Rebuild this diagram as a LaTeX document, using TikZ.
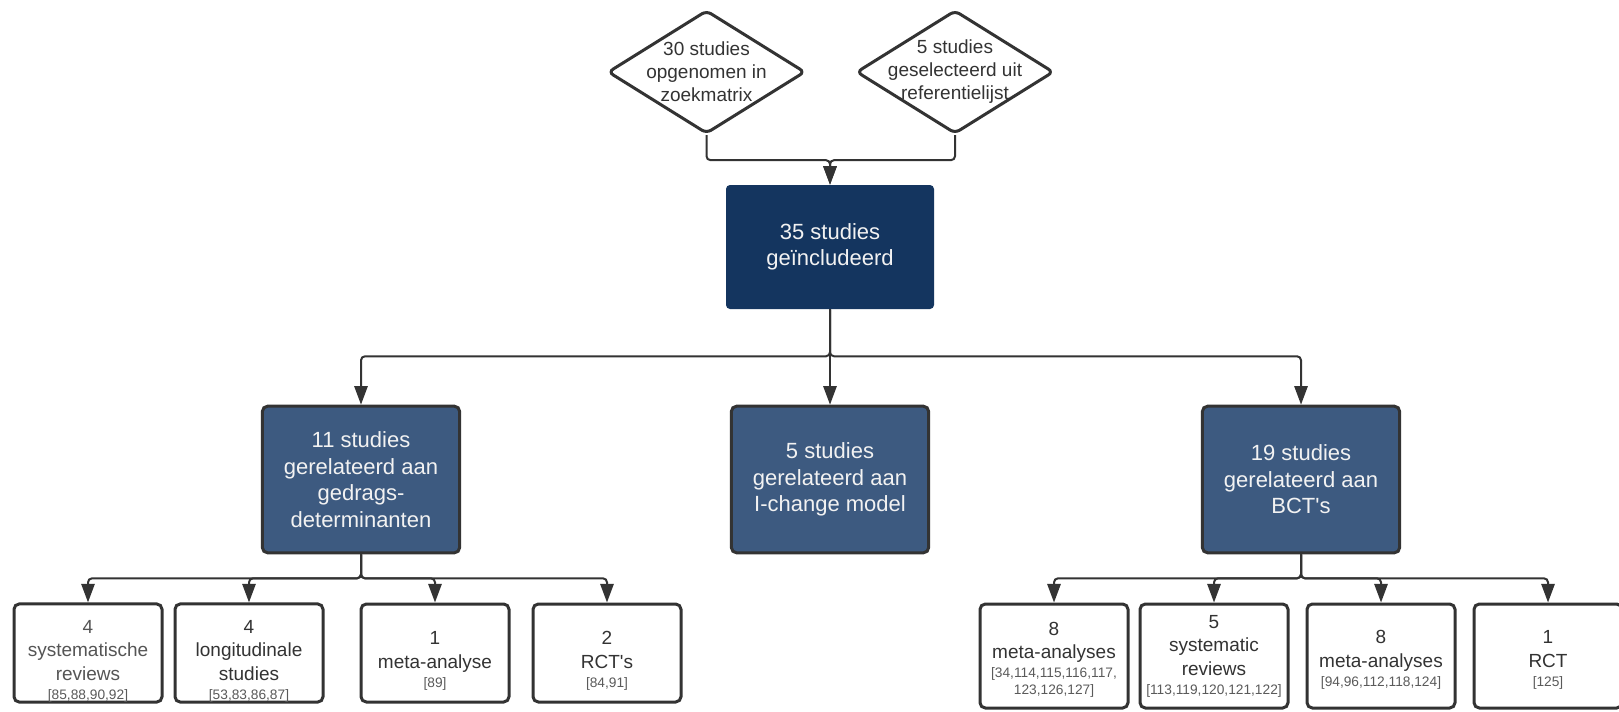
\documentclass[tikz,border=0pt]{standalone}
\usepackage{fontspec}
\setmainfont{Liberation Sans}[Ligatures=TeXOff]
\usetikzlibrary{arrows.meta,shapes.geometric}
\definecolor{navy}{HTML}{14355F}
\definecolor{slate}{HTML}{3D5A80}
\definecolor{edge}{HTML}{333333}
\definecolor{softink}{HTML}{555555}
\definecolor{refgrey}{HTML}{5A5A5A}
\definecolor{lighttext}{HTML}{F2F2F2}
\newcommand{\refnums}[1]{{\color{refgrey}\fontsize{10.3}{12}\selectfont #1}}
% invisible strut on the first line: pushes the text block down in its box
\newcommand{\topgap}[1]{\rule{0pt}{#1}}
\begin{document}
\begin{tikzpicture}[x=0.75pt,y=-0.75pt,
  conn/.style={draw=edge,line width=1.5pt,rounded corners=3pt,
    -{Triangle[length=14pt,width=10pt]}},
  choice/.style={diamond,draw=edge,fill=white,line width=2.25pt,
    rounded corners=4pt,minimum width=148pt,minimum height=92.5pt,inner sep=0pt},
  choicetext/.style={align=center,text=edge,inner sep=0pt,
    font=\fontsize{14.25}{17.25}\selectfont},
  rootbox/.style={fill=navy,rounded corners=3pt,minimum width=156pt,
    minimum height=93pt,align=center,text=lighttext,
    font=\fontsize{16.5}{19.8}\selectfont},
  groupbox/.style={draw=edge,fill=slate,line width=2.25pt,rounded corners=4pt,
    minimum width=148pt,minimum height=110pt,align=center,text=lighttext,
    font=\fontsize{16.5}{19.9}\selectfont},
  leaf/.style={draw=edge,fill=white,line width=2.25pt,rounded corners=4pt,
    minimum width=111pt,minimum height=73.5pt,align=center,text=edge,
    inner sep=0pt,font=\fontsize{14.25}{17.6}\selectfont},
  tallleaf/.style={leaf,minimum height=78pt}
]
\fill[white] (0,0) rectangle (1619,711);
\useasboundingbox (0,0) rectangle (1619,711);

% sources
\node[choice] (d1) at (706.5,72) {};
\node[choicetext] (t1) at (d1.center) {30 studies\\opgenomen in\\zoekmatrix};
\node[choice] (d2) at (955,72) {};
\node[choicetext] (t2) at (d2.center) {5 studies\\geselecteerd uit\\referentielijst};

% included studies
\node[rootbox] (main) at (830,247) {35 studies\\geïncludeerd};

% groups
\node[groupbox] (L) at (361,479.5) {11 studies\\gerelateerd aan\\gedrags-\\determinanten};
\node[groupbox] (M) at (830,479.5) {5 studies\\gerelateerd aan\\I-change model};
\node[groupbox] (R) at (1301,479.5) {19 studies\\gerelateerd aan\\BCT's};

% determinant studies
\node[leaf,text=softink] (l1) at (88,653) {\topgap{22pt}4\\systematische\\reviews\\[-3.3pt]\refnums{[85,88,90,92]}};
\node[leaf] (l2) at (249,653) {\topgap{22pt}4\\longitudinale\\studies\\[-3.3pt]\refnums{[53,83,86,87]}};
\node[leaf] (l3) at (435,653) {\topgap{22pt}1\\meta-analyse\\[-3.3pt]\refnums{[89]}};
\node[leaf] (l4) at (607,653) {\topgap{22pt}2\\RCT's\\[-3.3pt]\refnums{[84,91]}};

% BCT studies
\node[tallleaf] (r1) at (1054,656) {\topgap{15.5pt}8\\meta-analyses\\[-3.3pt]\refnums{[34,114,115,116,117,}\\[-4.85pt]\refnums{123,126,127]}};
\node[tallleaf] (r2) at (1214,656) {5\\systematic\\reviews\\[-3.3pt]\refnums{[113,119,120,121,122]}};
\node[tallleaf] (r3) at (1381,656) {\topgap{15.5pt}8\\meta-analyses\\[-3.3pt]\refnums{[94,96,112,118,124]}};
\node[tallleaf] (r4) at (1548,656) {\topgap{15.5pt}1\\RCT\\[-3.3pt]\refnums{[125]}};

% connectors
\draw[conn] (d1.south) -- ++(0,25) -| (main.north);
\draw[conn] (d2.south) -- ++(0,25) -| (main.north);
\draw[conn] (main.south) -- ++(0,47) -| (L.north);
\draw[conn] (main.south) -- (M.north);
\draw[conn] (main.south) -- ++(0,47) -| (R.north);
\foreach \c in {l1,l2,l3,l4}
  \draw[conn] (L.south) -- ++(0,24) -| (\c.north);
\foreach \c in {r1,r2,r3,r4}
  \draw[conn] (R.south) -- ++(0,24) -| (\c.north);
\end{tikzpicture}
\end{document}
